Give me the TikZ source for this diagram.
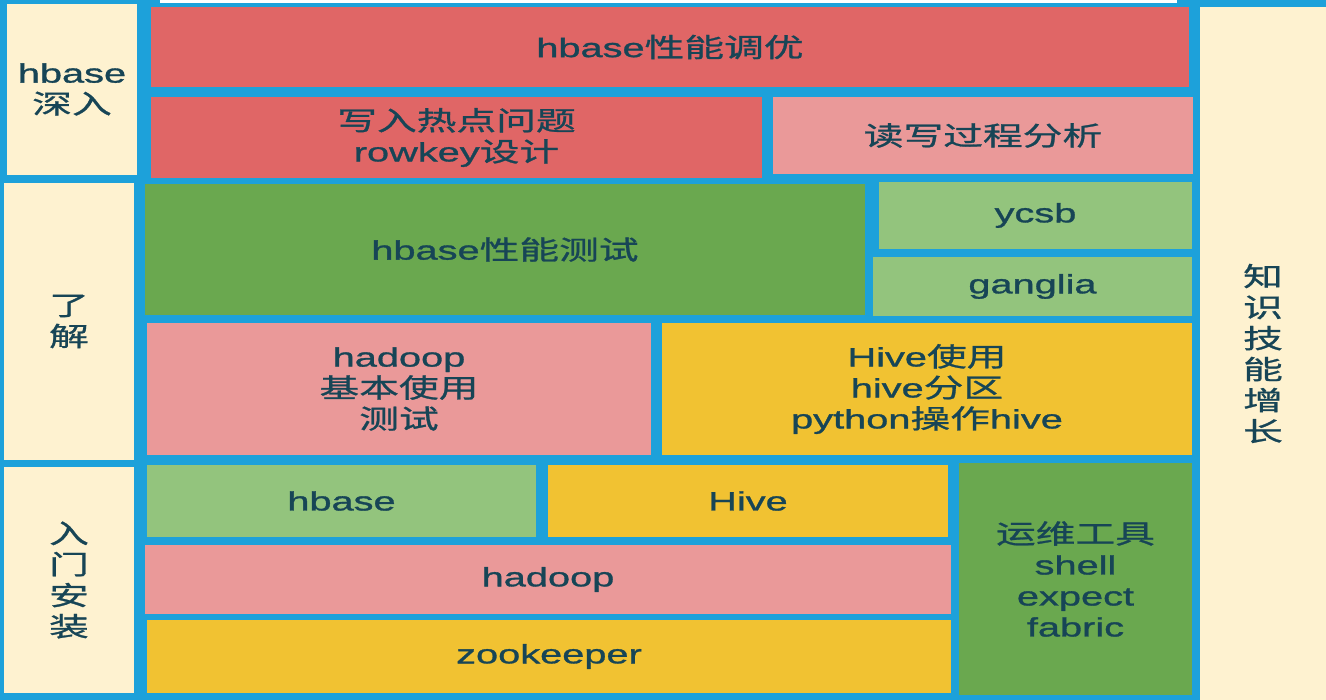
\documentclass[tikz,border=0pt]{standalone}
\usepackage{fontspec}
\usepackage{xcolor}
\usepackage{tikz}
\setmainfont{Liberation Sans}[FakeStretch=1.5,FakeBold=1.2]
\newfontfamily\cjk{Noto Sans CJK SC}[FakeStretch=1.5,FakeBold=1]
\newcommand{\zh}[1]{{\cjk #1}}
\definecolor{gridblue}{HTML}{1DA1DA}
\definecolor{cream}{HTML}{FEF2D0}
\definecolor{redc}{HTML}{E06666}
\definecolor{pinkc}{HTML}{EA9999}
\definecolor{darkgreen}{HTML}{6AA84F}
\definecolor{lightgreen}{HTML}{93C47D}
\definecolor{yellowc}{HTML}{F1C232}
\definecolor{ink}{HTML}{174556}

\begin{document}
\begin{tikzpicture}[x=1pt, y=-1pt,
    cell/.style={rectangle, inner sep=0pt, outer sep=0pt, text=ink, align=center,
        font=\fontsize{26.5}{31}\selectfont}]
    \useasboundingbox (0,0) rectangle (1326,700);
    \fill[gridblue] (0,0) rectangle (1326,700);
    \fill[white] (160,0) rectangle (1177,3);

    \node[cell,fill=cream,minimum width=130pt,minimum height=171pt] (deep) at (72,89.5) {hbase\\\zh{深入}};
    \node[cell,fill=cream,minimum width=130pt,minimum height=277pt] (know) at (69,321.5) {\zh{了}\\\zh{解}};
    \node[cell,fill=cream,minimum width=130pt,minimum height=226pt] (intro) at (69,580) {\zh{入}\\\zh{门}\\\zh{安}\\\zh{装}};
    \node[cell,fill=cream,minimum width=126pt,minimum height=693pt] (grow) at (1263,353.5) {\zh{知}\\\zh{识}\\\zh{技}\\\zh{能}\\\zh{增}\\\zh{长}};

    \node[cell,fill=redc,minimum width=1038pt,minimum height=80pt] (tune) at (670,47) {hbase\zh{性能调优}};
    \node[cell,fill=redc,minimum width=611pt,minimum height=81pt] (hot) at (456.5,137.5) {\zh{写入热点问题}\\rowkey\zh{设计}};
    \node[cell,fill=pinkc,minimum width=420pt,minimum height=77pt] (rw) at (983,135.5) {\zh{读写过程分析}};

    \node[cell,fill=darkgreen,minimum width=720pt,minimum height=131pt] (ptest) at (505,249.5) {hbase\zh{性能测试}};
    \node[cell,fill=lightgreen,minimum width=313pt,minimum height=67pt] (ycsb) at (1035.5,215.5) {ycsb};
    \node[cell,fill=lightgreen,minimum width=319pt,minimum height=59pt] (ganglia) at (1032.5,286.5) {ganglia};
    \node[cell,fill=pinkc,minimum width=504pt,minimum height=132pt] (hadoopuse) at (399,389) {hadoop\\\zh{基本使用}\\\zh{测试}};
    \node[cell,fill=yellowc,minimum width=530pt,minimum height=132pt] (hiveuse) at (927,389) {Hive\zh{使用}\\hive\zh{分区}\\python\zh{操作}hive};

    \node[cell,fill=lightgreen,minimum width=389pt,minimum height=72pt] (hbase) at (341.5,501) {hbase};
    \node[cell,fill=yellowc,minimum width=400pt,minimum height=72pt] (hive) at (748,501) {Hive};
    \node[cell,fill=darkgreen,minimum width=233pt,minimum height=232pt] (ops) at (1075.5,579) {\zh{运维工具}\\shell\\expect\\fabric};
    \node[cell,fill=pinkc,minimum width=806pt,minimum height=69pt] (hadoop) at (548,579.5) {hadoop};
    \node[cell,fill=yellowc,minimum width=804pt,minimum height=73pt] (zk) at (549,656.5) {zookeeper};
\end{tikzpicture}
\end{document}
